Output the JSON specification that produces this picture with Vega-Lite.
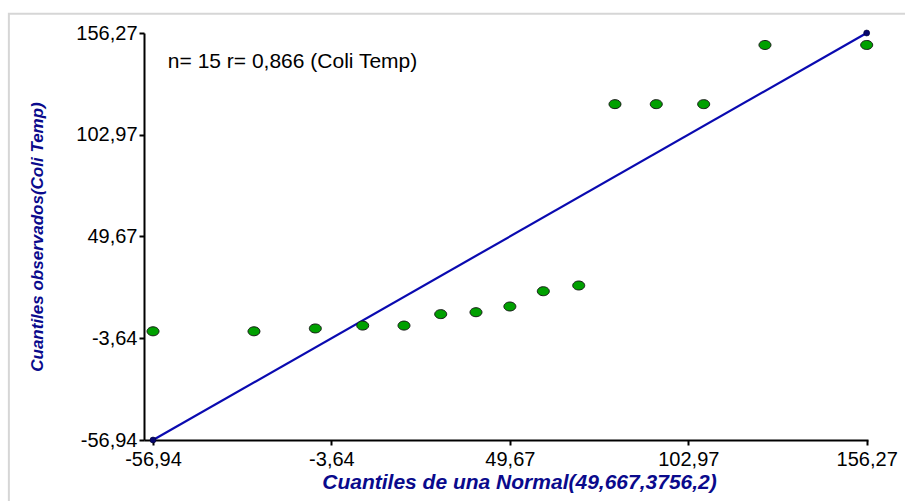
{
  "$schema": "https://vega.github.io/schema/vega-lite/v6.json",
  "width": 724,
  "height": 407,
  "autosize": {"type": "none"},
  "padding": {"left": 144, "top": 33, "right": 37, "bottom": 61},
  "background": "white",
  "config": {
    "view": {"stroke": null},
    "font": "Liberation Sans",
    "axis": {
      "domainColor": "black",
      "domainWidth": 2,
      "tickColor": "black",
      "tickWidth": 2,
      "tickSize": 5,
      "grid": false,
      "labelFont": "Liberation Sans",
      "labelFontSize": 20,
      "labelColor": "black",
      "titleFont": "Liberation Sans",
      "titleFontWeight": "bold",
      "titleFontStyle": "italic",
      "titleColor": "#0a0a8c"
    }
  },
  "datasets": {
    "cuantiles": [
      {"teorico": -56.94, "observado": 0},
      {"teorico": -26.77, "observado": 0},
      {"teorico": -8.45, "observado": 1.5},
      {"teorico": 5.71, "observado": 3},
      {"teorico": 18.04, "observado": 3},
      {"teorico": 29.01, "observado": 9},
      {"teorico": 39.55, "observado": 10},
      {"teorico": 49.67, "observado": 13},
      {"teorico": 59.66, "observado": 21},
      {"teorico": 70.24, "observado": 24},
      {"teorico": 81.08, "observado": 119},
      {"teorico": 93.41, "observado": 119},
      {"teorico": 107.57, "observado": 119},
      {"teorico": 125.88, "observado": 150},
      {"teorico": 156.27, "observado": 150}
    ],
    "identidad": [
      {"teorico": -56.94, "observado": -56.94},
      {"teorico": 156.27, "observado": 156.27}
    ],
    "nota": [
      {"texto": "n= 15 r= 0,866 (Coli Temp)", "teorico": -52.5, "observado": 141.2}
    ]
  },
  "layer": [
    {
      "data": {"values": [{}]},
      "mark": {"type": "rect", "filled": false, "stroke": "#d6d6d6", "strokeWidth": 2, "clip": false},
      "encoding": {
        "x": {"datum": -100, "type": "quantitative"},
        "x2": {"datum": 240},
        "y": {"datum": 166.4, "type": "quantitative"},
        "y2": {"datum": -110}
      }
    },
    {
      "data": {"name": "identidad"},
      "mark": {
        "type": "line",
        "color": "#0a0ab0",
        "strokeWidth": 2.2,
        "point": {"filled": true, "color": "#06066e", "size": 36, "stroke": "#000030", "strokeWidth": 0.6}
      },
      "encoding": {
        "x": {
          "field": "teorico",
          "type": "quantitative",
          "scale": {"domain": [-59.63, 156.66], "nice": false, "zero": false},
          "axis": {
            "title": "Cuantiles de una Normal(49,667,3756,2)",
            "titleFontSize": 21,
            "titlePadding": 2,
            "titleX": 375,
            "values": [-56.94, -3.64, 49.67, 102.97, 156.27],
            "labelExpr": "replace(replace(format(datum.value, '.2f'), '.', ','), '\u2212', '-')",
            "labelPadding": 4,
            "labelFlush": false,
            "labelOverlap": false
          }
        },
        "y": {
          "field": "observado",
          "type": "quantitative",
          "scale": {"domain": [-56.94, 156.27], "nice": false, "zero": false},
          "axis": {
            "title": "Cuantiles observados(Coli Temp)",
            "titleFontSize": 17,
            "titlePadding": 29,
            "values": [-56.94, -3.64, 49.67, 102.97, 156.27],
            "labelExpr": "replace(replace(format(datum.value, '.2f'), '.', ','), '\u2212', '-')",
            "labelPadding": 2,
            "labelFlush": false,
            "labelOverlap": false
          }
        }
      }
    },
    {
      "data": {"name": "cuantiles"},
      "mark": {
        "type": "point",
        "filled": true,
        "shape": "M-1,0A1,0.75,0,1,1,1,0A1,0.75,0,1,1,-1,0Z",
        "size": 144,
        "fill": "#00a000",
        "stroke": "#1a1a1a",
        "strokeWidth": 1,
        "opacity": 1
      },
      "encoding": {
        "x": {"field": "teorico", "type": "quantitative"},
        "y": {"field": "observado", "type": "quantitative"}
      }
    },
    {
      "data": {"name": "nota"},
      "mark": {"type": "text", "align": "left", "baseline": "middle", "fontSize": 21, "color": "black", "font": "Liberation Sans"},
      "encoding": {
        "x": {"field": "teorico", "type": "quantitative"},
        "y": {"field": "observado", "type": "quantitative"},
        "text": {"field": "texto"}
      }
    }
  ]
}
